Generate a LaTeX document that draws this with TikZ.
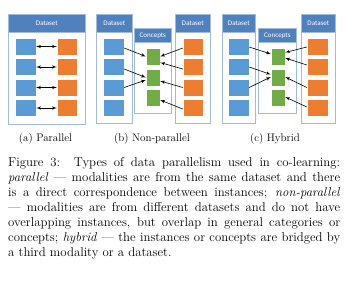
\documentclass[tikz,border=0pt]{standalone}
\usepackage{fontspec}
\newfontfamily\boxfont{Carlito}
\definecolor{headblue}{RGB}{79,129,189}
\definecolor{frameblue}{RGB}{160,187,222}
\definecolor{instblue}{RGB}{91,155,213}
\definecolor{instorange}{RGB}{237,125,49}
\definecolor{conceptgreen}{RGB}{112,173,71}
\usetikzlibrary{arrows, positioning}

\begin{document}
\begin{tikzpicture}[x=1pt, y=-1pt]
      \tikzstyle{frame} = [rectangle, draw=frameblue, fill=white, line width=0.7pt, anchor=north west, inner sep=0pt]
      \tikzstyle{header} = [rectangle, draw=frameblue, fill=headblue, line width=0.7pt, anchor=north west, inner sep=0pt, text=white, font=\boxfont\fontsize{7}{8}\selectfont]
      \tikzstyle{inst} = [rectangle, draw=white, line width=0.4pt, minimum width=21pt, minimum height=17pt, inner sep=0pt]
      \tikzstyle{concept} = [rectangle, draw=white, line width=0.4pt, fill=conceptgreen, minimum width=14pt, minimum height=17pt, inner sep=0pt]
      \tikzstyle{link} = [draw, -latex', line width=0.6pt]
      \tikzstyle{sub} = [font=\fontsize{11}{13}\selectfont]
      \useasboundingbox (0,0) rectangle (350,283);

      % (a) parallel
      \node [frame, minimum width=77pt, minimum height=110pt] (setA) at (8,14) {};
      \node [header, minimum width=77pt, minimum height=18pt] (setAhead) at (setA.north west) {Dataset};
      \foreach \i/\y in {1/46.5, 2/67, 3/87.5, 4/108} {
        \node [inst, fill=instblue] (aL\i) at (25.5,\y) {};
        \node [inst, fill=instorange, minimum width=20pt] (aR\i) at (67,\y) {};
        \path [link, latex'-latex'] (aL\i) -- (aR\i);
      }
      \node [sub] (capA) at (45.5,138.5) {(a) Parallel};

      % (b) non-parallel
      \node [frame, minimum width=36pt, minimum height=109pt] (setBl) at (96,14) {};
      \node [header, minimum width=36pt, minimum height=18pt] (setBlhead) at (setBl.north west) {Dataset};
      \node [frame, minimum width=37pt, minimum height=85pt] (conB) at (134,28) {};
      \node [header, minimum width=37pt, minimum height=14pt] (conBhead) at (conB.north west) {Concepts};
      \node [frame, minimum width=35pt, minimum height=109pt] (setBr) at (175,14) {};
      \node [header, minimum width=35pt, minimum height=18pt] (setBrhead) at (setBr.north west) {Dataset};
      \foreach \i/\y in {1/46.5, 2/67, 3/87.5, 4/108} {
        \node [inst, fill=instblue] (bL\i) at (113.5,\y) {};
        \node [inst, fill=instorange, minimum width=20pt] (bR\i) at (193,\y) {};
      }
      \foreach \i/\y in {1/56.5, 2/77.5, 3/97.5}
        \node [concept] (bC\i) at (153,\y) {};
      \path [link] ([yshift=-1.5pt]bL1.east) -- (bC1.west);
      \path [link] ([yshift=-2pt]bL2.east) -- (bC2.west);
      \path [link] (bL3.east) -- ([yshift=-2.5pt]bC2.west);
      \path [link] ([yshift=-1.5pt]bR1.west) -- (bC1.east);
      \path [link] ([yshift=-2pt]bR2.west) -- ([yshift=-6pt]bC1.east);
      \path [link] (bR3.west) -- ([yshift=-3.5pt]bC2.east);
      \path [link] ([yshift=-1pt]bR4.west) -- ([yshift=-2.5pt]bC3.east);
      \node [sub] (capB) at (152,138.5) {(b) Non-parallel};

      % (c) hybrid
      \node [frame, minimum width=33pt, minimum height=109pt] (setCl) at (222,14) {};
      \node [header, minimum width=33pt, minimum height=18pt] (setClhead) at (setCl.north west) {Dataset};
      \node [frame, minimum width=38pt, minimum height=85pt] (conC) at (258,28) {};
      \node [header, minimum width=38pt, minimum height=14pt] (conChead) at (conC.north west) {Concepts};
      \node [frame, minimum width=34pt, minimum height=109pt] (setCr) at (301,14) {};
      \node [header, minimum width=34pt, minimum height=18pt] (setCrhead) at (setCr.north west) {Dataset};
      \foreach \i/\y in {1/46.5, 2/67, 3/87.5, 4/108} {
        \node [inst, fill=instblue] (cL\i) at (238.5,\y) {};
        \node [inst, fill=instorange] (cR\i) at (317.5,\y) {};
      }
      \foreach \i/\y in {1/56.5, 2/77.5, 3/97.5}
        \node [concept] (cC\i) at (278,\y) {};
      \path [link] ([yshift=-0.5pt]cL1.east) -- ([yshift=2.5pt]cC1.west);
      \path [link] (cL2.east) -- ([yshift=3pt]cC2.west);
      \path [link] (cL3.east) -- ([yshift=0.5pt]cC2.west);
      \path [link] ([yshift=-0.5pt]cR1.west) -- ([yshift=4pt]cC1.east);
      \path [link] ([yshift=2pt]cR2.west) -- ([yshift=-1.5pt]cC1.east);
      \path [link] (cR3.west) -- ([yshift=0.5pt]cC2.east);
      \path [link] ([yshift=1pt]cR4.west) -- ([yshift=0.5pt]cC3.east);
      \node [sub] (capC) at (275,138.5) {(c) Hybrid};

      % figure caption
      \node [anchor=north west, text width=332pt, align=justify, inner sep=0pt, font=\fontsize{12.8}{15}\selectfont] (caption) at (8,157) {Figure 3:\ \ Types of data parallelism used in co-learning:\linebreak
        \textit{parallel} --- modalities are from the same dataset and there\linebreak
        is a direct correspondence between instances; \textit{non-parallel}\linebreak
        --- modalities are from different datasets and do not have\linebreak
        overlapping instances, but overlap in general categories or\linebreak
        concepts; \textit{hybrid} --- the instances or concepts are bridged by\linebreak
        a third modality or a dataset.};
    \end{tikzpicture}
\end{document}
